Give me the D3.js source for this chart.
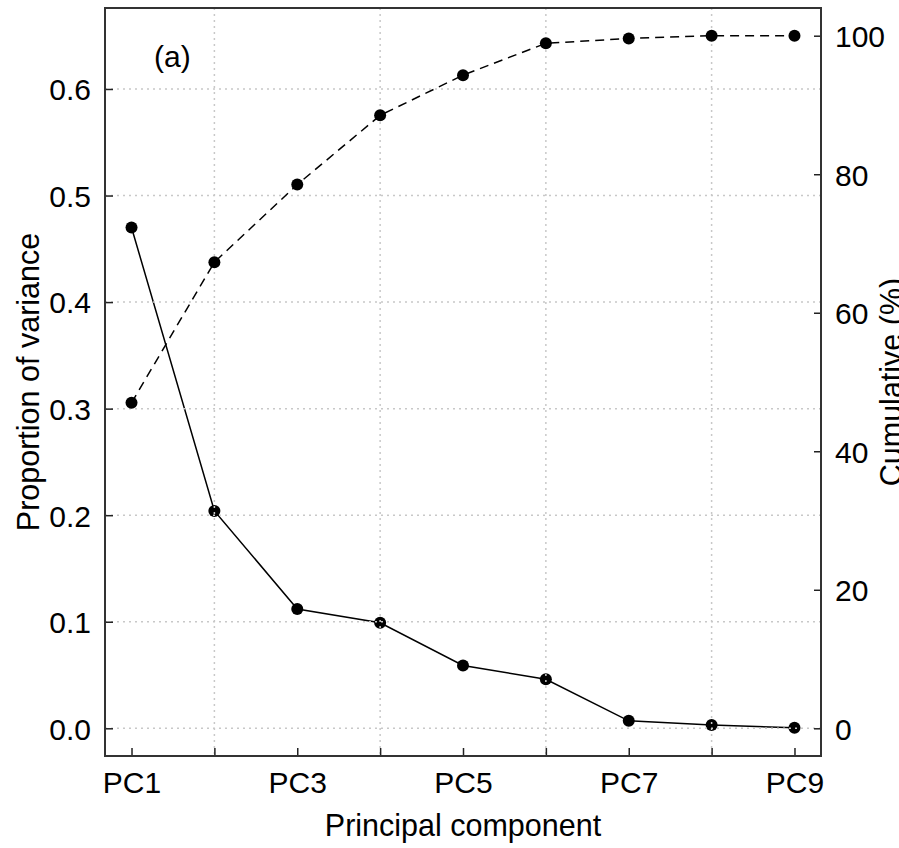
<!DOCTYPE html>
<html>
<head>
<meta charset="utf-8">
<script src="https://cdn.jsdelivr.net/npm/d3@7"></script>
<style>
  body { margin: 0; background: #fff; }
  svg { display: block; font-family: Arial, "Liberation Sans", sans-serif; }
  .tick line { stroke: #222; stroke-width: 1.5; }
  .tick text { font-size: 30px; fill: #000; }
</style>
</head>
<body>
<div id="chart"></div>
<script>
// Data
const components = ["PC1", "PC2", "PC3", "PC4", "PC5", "PC6", "PC7", "PC8", "PC9"];
const propVariance = [0.470, 0.204, 0.112, 0.099, 0.059, 0.046, 0.007, 0.003, 0.0005];
const cumulative = [47.0, 67.3, 78.5, 88.5, 94.3, 98.9, 99.6, 100.0, 100.0];

const leftTicks = [0, 0.1, 0.2, 0.3, 0.4, 0.5, 0.6];
const rightTicks = [0, 20, 40, 60, 80, 100];
const gridX = [2, 4, 6, 8];

// Dimensions
const W = 899, H = 848;
const margin = { top: 8, right: 78, bottom: 92, left: 105 };
const width = W - margin.left - margin.right;
const height = H - margin.top - margin.bottom;

const svg = d3.select("#chart")
  .append("svg")
  .attr("width", W)
  .attr("height", H);

const g = svg.append("g")
  .attr("transform", `translate(${margin.left},${margin.top})`);

// Scales (R-style 4% padding)
const idx = components.map((d, i) => i + 1);
const x = d3.scaleLinear().domain([0.68, 9.32]).range([0, width]);
const yLeft = d3.scaleLinear().domain([-0.026, 0.676]).range([height, 0]);
const yRight = d3.scaleLinear().domain([-4, 104]).range([height, 0]);

// Proportion of variance (solid)
const lineProp = d3.line()
  .x((d, i) => x(idx[i]))
  .y(d => yLeft(d));

g.append("path")
  .datum(propVariance)
  .attr("d", lineProp)
  .attr("fill", "none")
  .attr("stroke", "#000")
  .attr("stroke-width", 1.5);

g.selectAll(".pt-prop")
  .data(propVariance)
  .enter()
  .append("circle")
  .attr("class", "pt-prop")
  .attr("cx", (d, i) => x(idx[i]))
  .attr("cy", d => yLeft(d))
  .attr("r", 6)
  .attr("fill", "#000");

// Grid (dotted, drawn over first series)
const grid = g.append("g").attr("stroke", "#c8c8c8").attr("stroke-width", 1.5)
  .attr("stroke-dasharray", "2,4");

grid.selectAll(".gy")
  .data(leftTicks)
  .enter()
  .append("line")
  .attr("x1", 0).attr("x2", width)
  .attr("y1", d => yLeft(d)).attr("y2", d => yLeft(d));

grid.selectAll(".gx")
  .data(gridX)
  .enter()
  .append("line")
  .attr("x1", d => x(d)).attr("x2", d => x(d))
  .attr("y1", 0).attr("y2", height);

// Cumulative (dashed)
const lineCum = d3.line()
  .x((d, i) => x(idx[i]))
  .y(d => yRight(d));

g.append("path")
  .datum(cumulative)
  .attr("d", lineCum)
  .attr("fill", "none")
  .attr("stroke", "#000")
  .attr("stroke-width", 1.5)
  .attr("stroke-dasharray", "9,6");

g.selectAll(".pt-cum")
  .data(cumulative)
  .enter()
  .append("circle")
  .attr("class", "pt-cum")
  .attr("cx", (d, i) => x(idx[i]))
  .attr("cy", d => yRight(d))
  .attr("r", 6)
  .attr("fill", "#000");

// Axes, ticks pointing inward
g.append("g")
  .attr("transform", `translate(0,${height})`)
  .call(d3.axisBottom(x)
    .tickValues(idx)
    .tickSize(-8)
    .tickPadding(16)
    .tickFormat(i => (i % 2 === 1 ? components[i - 1] : "")))
  .call(a => a.select(".domain").remove());

g.append("g")
  .call(d3.axisLeft(yLeft)
    .tickValues(leftTicks)
    .tickSize(-8)
    .tickPadding(14)
    .tickFormat(d3.format(".1f")))
  .call(a => a.select(".domain").remove())
  .call(a => a.selectAll("text").attr("dy", "0.36em"));

g.append("g")
  .attr("transform", `translate(${width},0)`)
  .call(d3.axisRight(yRight)
    .tickValues(rightTicks)
    .tickSize(-7)
    .tickPadding(14))
  .call(a => a.select(".domain").remove())
  .call(a => a.selectAll("text").attr("dy", "0.36em"));

// Frame
g.append("rect")
  .attr("x", 0).attr("y", 0)
  .attr("width", width).attr("height", height)
  .attr("fill", "none")
  .attr("stroke", "#333")
  .attr("stroke-width", 2);

// Titles
svg.append("text")
  .attr("x", margin.left + width / 2)
  .attr("y", 836)
  .attr("text-anchor", "middle")
  .attr("font-size", 30.5)
  .text("Principal component");

svg.append("text")
  .attr("transform", `translate(39,${margin.top + height / 2}) rotate(-90)`)
  .attr("text-anchor", "middle")
  .attr("font-size", 30.5)
  .text("Proportion of variance");

// cut off at the right edge, as in the reference
svg.append("text")
  .attr("transform", `translate(902,${margin.top + height / 2}) rotate(-90)`)
  .attr("text-anchor", "middle")
  .attr("font-size", 30.5)
  .text("Cumulative (%)");

svg.append("text")
  .attr("x", 154)
  .attr("y", 66.5)
  .attr("font-size", 30)
  .text("(a)");
</script>
</body>
</html>
